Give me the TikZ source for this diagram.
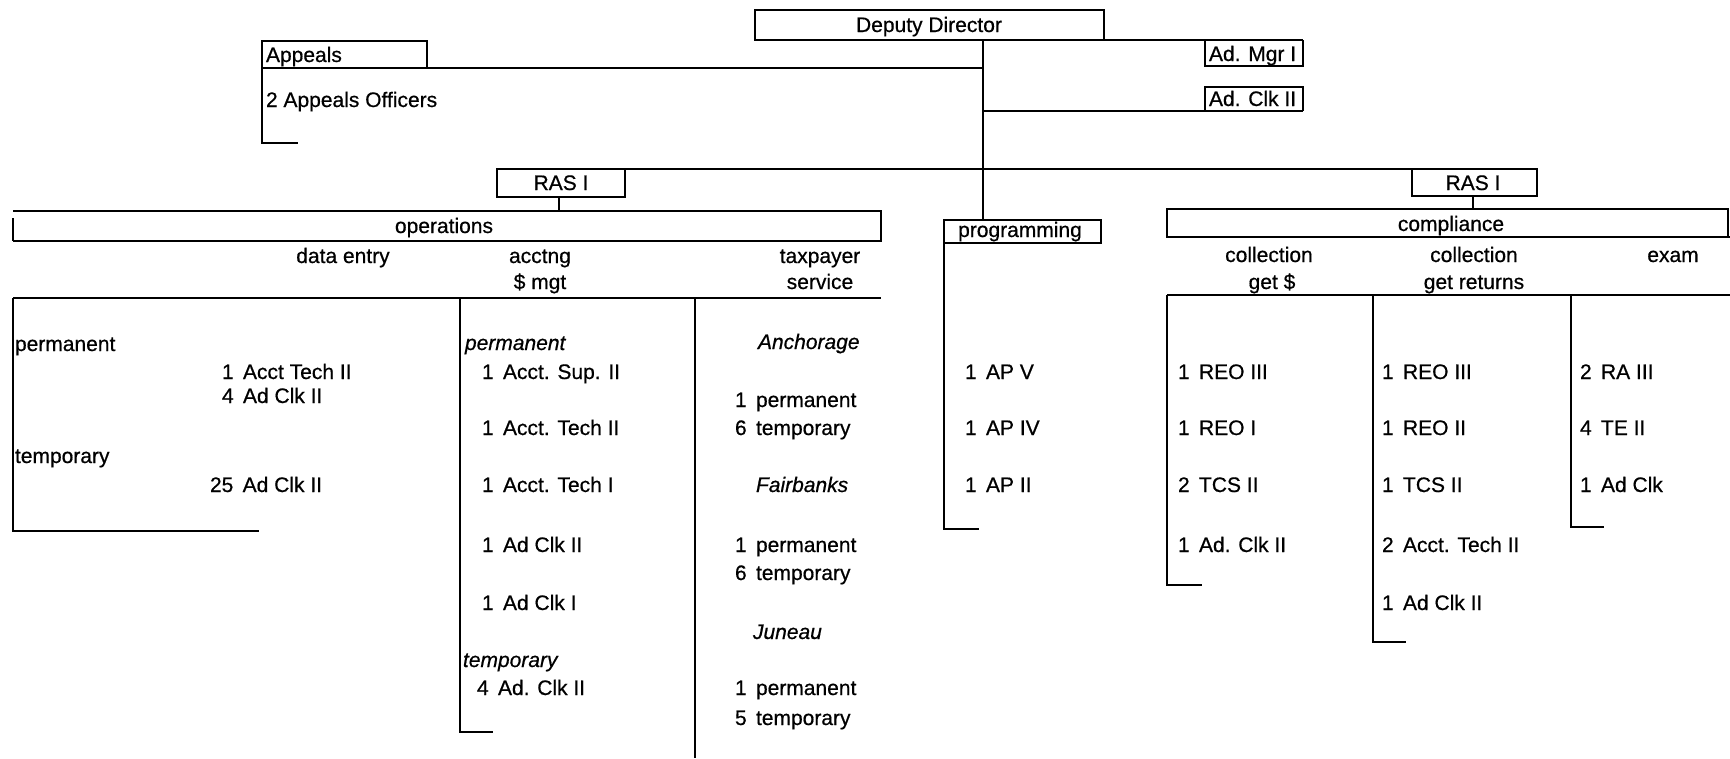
\documentclass[tikz,border=0pt]{standalone}
\usepackage{fontspec}
\setmainfont{Liberation Sans}[UprightFeatures={FakeBold=0.6},ItalicFeatures={FakeBold=0.6}]
\begin{document}
\begin{tikzpicture}[x=1pt,y=-1pt,line width=2pt,
  every node/.style={font=\fontsize{21}{25}\selectfont,inner sep=0pt,outer sep=0pt},
  lbl/.style={anchor=base west},
  ctr/.style={anchor=base},
  itl/.style={anchor=base west,font=\fontsize{21}{25}\selectfont\itshape},
  boxnode/.style={draw,anchor=north west,inner sep=0pt}]
\useasboundingbox (0,0) rectangle (1730,758);

% ---------- top ----------
\node[boxnode,minimum width=349pt,minimum height=30pt] (dd) at (755,10) {};
\node[ctr] (ddt) at (929,32) {Deputy Director};
\coordinate (ddr) at (1104,40);
\coordinate (mgrR) at (1303,40);
\draw (ddr) -- (mgrR);
\draw (1205,40) -- (1205,66) -- (1303,66) -- (mgrR);
\node[lbl] (mgr) at (1209,61) {Ad. Mgr I};
\draw (1205,111) -- (1205,87) -- (1303,87) -- (1303,111);
\node[lbl] (clk) at (1209,106) {Ad. Clk II};
\coordinate (c0) at (983,40);
\coordinate (cprog) at (983,220);
\draw (c0) -- (cprog);
\draw (983,111) -- (1303,111);

% appeals
\draw (427,68) -- (427,41) -- (262,41) -- (262,143) -- (298,143);
\draw (262,68) -- (983,68);
\node[lbl] (app) at (266,62) {Appeals};
\node[lbl] (appo) at (266,107) {2 Appeals Officers};

% RAS line
\draw (497,169) -- (1537,169);
\node[boxnode,minimum width=128pt,minimum height=28pt] (rasL) at (497,169) {};
\node[ctr] at (561,190) {RAS I};
\node[boxnode,minimum width=125pt,minimum height=27pt] (rasR) at (1412,169) {};
\node[ctr] at (1473,190) {RAS I};
\coordinate (opsTop) at (559,211);
\coordinate (comTop) at (1473,209);
\draw (559,197) -- (opsTop);
\draw (1473,196) -- (comTop);

% ---------- operations ----------
\draw (13,211) -- (881,211) -- (881,241) -- (13,241);
\draw (13,218) -- (13,241);
\node[ctr] (ops) at (444,233) {operations};
\node[ctr] at (343,263) {data entry};
\node[ctr] at (540,263) {acctng};
\node[ctr] at (540,289) {\$ mgt};
\node[ctr] at (820,263) {taxpayer};
\node[ctr] at (820,289) {service};
\draw (13,298) -- (881,298);

% data entry
\draw (13,298) -- (13,531) -- (259,531);
\node[lbl] at (15,351) {permanent};
\node[lbl] at (222,379) {1 \,Acct Tech II};
\node[lbl] at (222,403) {4 \,Ad Clk II};
\node[lbl] at (15,463) {temporary};
\node[lbl] at (210,492) {25 \,Ad Clk II};

% acctng
\draw (460,298) -- (460,732) -- (493,732);
\node[itl] at (465,350) {permanent};
\node[lbl] at (482,379) {1 \,Acct. Sup. II};
\node[lbl] at (482,435) {1 \,Acct. Tech II};
\node[lbl] at (482,492) {1 \,Acct. Tech I};
\node[lbl] at (482,552) {1 \,Ad Clk II};
\node[lbl] at (482,610) {1 \,Ad Clk I};
\node[itl] at (463,667) {temporary};
\node[lbl] at (477,695) {4 \,Ad. Clk II};

% taxpayer service
\draw (695,298) -- (695,758);
\node[itl] at (758,349) {Anchorage};
\node[lbl] at (735,407) {1 \,permanent};
\node[lbl] at (735,435) {6 \,temporary};
\node[itl] at (756,492) {Fairbanks};
\node[lbl] at (735,552) {1 \,permanent};
\node[lbl] at (735,580) {6 \,temporary};
\node[itl] at (753,639) {Juneau};
\node[lbl] at (735,695) {1 \,permanent};
\node[lbl] at (735,725) {5 \,temporary};

% ---------- programming ----------
\draw (944,243) -- (1101,243) -- (1101,220) -- (944,220) -- (944,529) -- (979,529);
\node[ctr] (prog) at (1020,237) {programming};
\node[lbl] at (965,379) {1 \,AP V};
\node[lbl] at (965,435) {1 \,AP IV};
\node[lbl] at (965,492) {1 \,AP II};

% ---------- compliance ----------
\draw (1728,237) -- (1728,209) -- (1167,209) -- (1167,237) -- (1730,237);
\node[ctr] (com) at (1451,231) {compliance};
\node[ctr] at (1269,262) {collection};
\node[ctr] at (1272,289) {get \$};
\node[ctr] at (1474,262) {collection};
\node[ctr] at (1474,289) {get returns};
\node[ctr] at (1673,262) {exam};
\draw (1167,295) -- (1730,295);

\draw (1167,295) -- (1167,585) -- (1202,585);
\node[lbl] at (1178,379) {1 \,REO III};
\node[lbl] at (1178,435) {1 \,REO I};
\node[lbl] at (1178,492) {2 \,TCS II};
\node[lbl] at (1178,552) {1 \,Ad. Clk II};

\draw (1373,295) -- (1373,642) -- (1406,642);
\node[lbl] at (1382,379) {1 \,REO III};
\node[lbl] at (1382,435) {1 \,REO II};
\node[lbl] at (1382,492) {1 \,TCS II};
\node[lbl] at (1382,552) {2 \,Acct. Tech II};
\node[lbl] at (1382,610) {1 \,Ad Clk II};

\draw (1571,295) -- (1571,527) -- (1604,527);
\node[lbl] at (1580,379) {2 \,RA III};
\node[lbl] at (1580,435) {4 \,TE II};
\node[lbl] at (1580,492) {1 \,Ad Clk};
\end{tikzpicture}
\end{document}
